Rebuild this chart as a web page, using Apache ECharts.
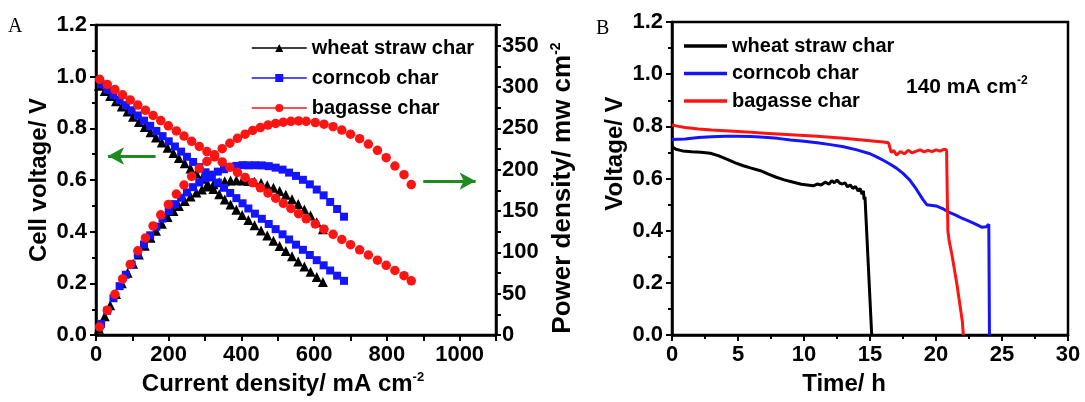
<!DOCTYPE html>
<html><head><meta charset="utf-8">
<script src="https://cdn.jsdelivr.net/npm/echarts@6/dist/echarts.min.js"></script>
<style>html,body{margin:0;padding:0;background:#fff}#c{width:1085px;height:402px}</style>
</head><body><div id="c"></div><script>
// ---- Panel A: polarization (voltage) and power density vs current density ----
const seriesNames = ['wheat straw char', 'corncob char', 'bagasse char'];

const wheatI = [8,24,39,55,71,87,102,118,134,150,165,181,197,213,228,244,260,276,291,307,323,339,354,370,386,402,419,436,454,471,488,505,522,539,556,573,590,607,624];
const wheatV = [0.965,0.945,0.925,0.905,0.885,0.865,0.845,0.825,0.805,0.785,0.765,0.745,0.725,0.705,0.685,0.665,0.645,0.625,0.605,0.585,0.565,0.545,0.525,0.505,0.485,0.465,0.445,0.425,0.405,0.385,0.365,0.345,0.325,0.305,0.285,0.265,0.245,0.225,0.205];
const wheatP = [7.7,22.7,36.1,49.8,62.8,75.3,86.2,97.4,107.9,117.8,126.2,134.8,142.8,150.2,156.2,162.3,167.7,172.5,176.1,179.6,182.5,184.8,185.9,186.9,187.2,186.9,186.5,185.3,183.9,181.3,178.1,174.2,169.7,164.4,158.5,151.8,144.6,136.6,127.9];

const cornI = [14,31,48,65,82,98,115,132,149,166,183,200,217,234,250,267,284,301,318,335,352,369,386,403,419,437,456,475,494,513,531,550,569,588,607,626,644,663,682];
const cornV = [0.97,0.95,0.93,0.91,0.89,0.87,0.85,0.83,0.81,0.79,0.77,0.75,0.73,0.71,0.69,0.67,0.65,0.63,0.61,0.59,0.57,0.55,0.53,0.51,0.49,0.47,0.45,0.43,0.41,0.39,0.37,0.35,0.33,0.31,0.29,0.27,0.25,0.23,0.21];
const cornP = [13.6,29.5,44.6,59.2,73.0,85.3,97.8,109.6,120.7,131.1,140.9,150.0,158.4,166.1,172.5,178.9,184.6,189.6,194.0,197.7,200.6,203.0,204.6,205.5,205.3,205.4,205.2,204.3,202.5,200.1,196.5,192.5,187.8,182.3,176.0,169.0,161.0,152.5,143.2];

const bagI = [10,31,52,73,94,115,136,157,178,199,221,242,263,284,305,326,347,368,389,410,431,452,473,494,515,536,557,578,603,627,652,676,700,725,749,774,798,822,847,867];
const bagV = [0.99,0.97,0.95,0.93,0.91,0.89,0.87,0.85,0.83,0.81,0.79,0.77,0.75,0.73,0.71,0.69,0.67,0.65,0.63,0.61,0.59,0.57,0.55,0.53,0.51,0.49,0.47,0.45,0.43,0.41,0.39,0.37,0.35,0.33,0.31,0.29,0.27,0.25,0.23,0.21];
const bagP = [9.9,30.1,49.4,67.9,85.5,102,117.5,132,145.5,158,170.5,181.5,192,201.5,210,218,225.5,232,238,243,247.5,251,254,256,257.5,258.5,259,258.5,257,255,252,248,243,237.5,231,223.5,214.5,204.5,194,182];

// green arrows (data coordinates of panel A: current density, voltage)
const arrowLeft = [[33, 0.693], [164, 0.693]];
const arrowRight = [[900, 0.596], [1044, 0.596]];

// ---- Panel B: voltage vs time at 140 mA cm-2 ----
const wheatT = [0,0.3,0.8,1.5,2.2,2.9,3.5,4.1,4.8,5.4,6.0,6.7,7.3,7.9,8.5,9.2,9.8,10.4,10.7,11.0,11.3,11.6,11.9,12.1,12.3,12.5,12.7,12.9,13.1,13.3,13.5,13.7,13.9,14.1,14.25,14.4,14.5,14.55,14.62,15.13];
const wheatVt = [0.722,0.712,0.706,0.703,0.701,0.697,0.688,0.675,0.66,0.649,0.64,0.63,0.617,0.605,0.595,0.586,0.578,0.574,0.572,0.579,0.575,0.586,0.579,0.592,0.584,0.594,0.583,0.579,0.584,0.568,0.576,0.562,0.57,0.552,0.562,0.54,0.553,0.52,0.53,0];
const cornT = [0,1,2,3,4,5,6,7,8,9,10,11,12,13,14,15,15.5,16,16.5,17,17.5,18,18.5,19,19.3,20,20.5,21,21.5,22,22.5,23,23.5,23.8,24,24.05];
const cornVt = [0.75,0.752,0.757,0.76,0.762,0.762,0.761,0.758,0.754,0.748,0.743,0.737,0.73,0.722,0.71,0.695,0.683,0.67,0.656,0.64,0.62,0.595,0.56,0.52,0.50,0.495,0.485,0.47,0.46,0.447,0.437,0.425,0.413,0.415,0.425,0];
const bagT = [0,0.5,1,2,3,4,5,6,7,8,9,10,11,12,13,14,15,16,16.4,16.5,16.6,16.8,17.0,17.3,17.6,17.9,18.2,18.5,18.8,19.1,19.4,19.7,20.0,20.3,20.6,20.8,20.85,20.9,21.0,21.2,21.4,21.6,21.8,22.0,22.07];
const bagVt = [0.805,0.8,0.796,0.79,0.786,0.783,0.78,0.777,0.774,0.771,0.768,0.765,0.762,0.758,0.754,0.75,0.745,0.74,0.737,0.72,0.70,0.708,0.69,0.703,0.695,0.708,0.698,0.705,0.71,0.702,0.708,0.703,0.71,0.705,0.712,0.71,0.55,0.40,0.36,0.31,0.25,0.19,0.12,0.05,0];

// ---- chart ----
const F = '"Liberation Sans", Arial, sans-serif';
const BLACK = '#000000', BLUE = '#1414ff', RED = '#ff1414', GREEN = '#1f8a1f';
const colors = [BLACK, BLUE, RED];
const zip = (a, b) => a.map((v, i) => [v, b[i]]);

const supRich = { sup: { fontSize: 13, fontWeight: 'bold', fontFamily: F, color: '#000', verticalAlign: 'top', lineHeight: 26 } };
const nameStyle = { fontSize: 24, fontWeight: 'bold', fontFamily: F, color: '#000', lineHeight: 26, rich: supRich };
const labelStyle = { fontSize: 22, fontWeight: 'bold', fontFamily: F, color: '#000' };
const axisLine = { show: true, onZero: false, lineStyle: { color: '#000', width: 2.5 } };
const tick = { show: true, inside: false, length: 6, lineStyle: { color: '#000', width: 2 } };
const minor = { show: true, splitNumber: 2, length: 4, lineStyle: { color: '#000', width: 2 } };

const chart = echarts.init(document.getElementById('c'));
const leftSeries = [];
const ivData = [[wheatI, wheatV, wheatP, 'triangle', 10], [cornI, cornV, cornP, 'rect', 8], [bagI, bagV, bagP, 'circle', 9.5]];
ivData.forEach((d, k) => {
  leftSeries.push({
    name: seriesNames[k], type: 'line', xAxisIndex: 0, yAxisIndex: 0,
    data: zip(d[0], d[1]), symbol: d[3], symbolSize: d[4], showAllSymbol: true,
    lineStyle: { width: 0 }, itemStyle: { color: colors[k] }, emphasis: { disabled: true }, z: 3 + k
  });
});
ivData.forEach((d, k) => {
  leftSeries.push({
    name: seriesNames[k], type: 'line', xAxisIndex: 0, yAxisIndex: 1,
    data: zip(d[0], d[2]), symbol: d[3], symbolSize: d[4], showAllSymbol: true,
    lineStyle: { width: 0 }, itemStyle: { color: colors[k] }, emphasis: { disabled: true }, z: 3 + k
  });
});
// arrows
leftSeries[0].markLine = {
  silent: true, animation: false, symbolSize: [13, 16],
  lineStyle: { color: GREEN, width: 3, type: 'solid' }, label: { show: false },
  data: [
    [{ coord: arrowLeft[0], symbol: 'arrow' }, { coord: arrowLeft[1], symbol: 'none' }],
    [{ coord: arrowRight[0], symbol: 'none' }, { coord: arrowRight[1], symbol: 'arrow' }]
  ]
};

const rightData = [[wheatT, wheatVt], [cornT, cornVt], [bagT, bagVt]];
const rightSeries = rightData.map((d, k) => ({
  name: seriesNames[k] + ' ', type: 'line', xAxisIndex: 1, yAxisIndex: 2,
  data: zip(d[0], d[1]), symbol: 'none', showSymbol: false,
  lineStyle: { width: 3, color: colors[k] }, itemStyle: { color: colors[k] }, emphasis: { disabled: true }, z: 3 + (k === 0 ? 2 : k - 1)
}));

chart.setOption({
  animation: false,
  backgroundColor: '#fff',
  grid: [
    { left: 96, right: 589, top: 25, bottom: 55, show: true, borderColor: '#000', borderWidth: 2.5, backgroundColor: 'transparent' },
    { left: 672, right: 17, top: 22, bottom: 58, show: true, borderColor: '#000', borderWidth: 2.5, backgroundColor: 'transparent' }
  ],
  legend: [
    {
      data: seriesNames, left: 246, top: 32, orient: 'vertical', itemWidth: 55, itemHeight: 10, itemGap: 8,
      textStyle: { fontSize: 20, fontWeight: 'bold', fontFamily: F, color: '#000', lineHeight: 22 },
      lineStyle: { width: 1.5 }, selectedMode: false
    },
    {
      data: seriesNames.map(n => n + ' '), left: 679, top: 30, orient: 'vertical', itemWidth: 43, itemHeight: 3.5, itemGap: 5.5,
      icon: 'rect',
      textStyle: { fontSize: 20, fontWeight: 'bold', fontFamily: F, color: '#000', lineHeight: 22 },
      formatter: n => n.trim(), selectedMode: false
    }
  ],
  xAxis: [
    {
      gridIndex: 0, type: 'value', min: 0, max: 1100, interval: 100,
      axisLine: axisLine, axisTick: tick, splitLine: { show: false },
      axisLabel: Object.assign({ margin: 9, formatter: v => (v % 200 === 0 && v <= 1000) ? String(v) : '' }, labelStyle),
      name: 'Current density/ mA cm{sup|-2}', nameLocation: 'middle', nameGap: 33,
      nameTextStyle: Object.assign({ padding: [0, 26, 0, 0] }, nameStyle)
    },
    {
      gridIndex: 1, type: 'value', min: 0, max: 30, interval: 5,
      axisLine: axisLine, axisTick: tick, minorTick: minor, splitLine: { show: false },
      axisLabel: Object.assign({ margin: 9 }, labelStyle),
      name: 'Time/ h', nameLocation: 'middle', nameGap: 35,
      nameTextStyle: Object.assign({ padding: [0, 52, 0, 0] }, nameStyle)
    }
  ],
  yAxis: [
    {
      gridIndex: 0, type: 'value', min: 0, max: 1.2, interval: 0.2,
      axisLine: axisLine, axisTick: tick, minorTick: minor, splitLine: { show: false },
      axisLabel: Object.assign({ margin: 9, formatter: v => v.toFixed(1) }, labelStyle),
      name: 'Cell voltage/ V', nameLocation: 'middle', nameGap: 44, nameTextStyle: nameStyle
    },
    {
      gridIndex: 0, type: 'value', position: 'right', min: 0, max: 375, interval: 25,
      axisLine: axisLine, axisTick: Object.assign({}, tick, { length: 5 }), splitLine: { show: false },
      axisLabel: Object.assign({ margin: 6, formatter: v => (v % 50 === 0 && v <= 350) ? String(v) : '' }, labelStyle),
      name: 'Power density/ mw cm{sup|-2}', nameLocation: 'middle', nameGap: 53,
      nameTextStyle: Object.assign({}, nameStyle, { fontSize: 26, lineHeight: 28, padding: [0, 16, 0, 0],
        rich: { sup: Object.assign({}, supRich.sup, { fontSize: 14, lineHeight: 28 }) } })
    },
    {
      gridIndex: 1, type: 'value', min: 0, max: 1.2, interval: 0.2,
      axisLine: axisLine, axisTick: tick, minorTick: minor, splitLine: { show: false },
      axisLabel: Object.assign({ margin: 9, formatter: v => v.toFixed(1) }, labelStyle),
      name: 'Voltage/ V', nameLocation: 'middle', nameGap: 44,
      nameTextStyle: Object.assign({ padding: [0, 0, 0, 50] }, nameStyle)
    }
  ],
  graphic: [
    { type: 'text', left: 8, top: 17, style: { text: 'A', fontSize: 20, fontFamily: '"Liberation Serif", serif', fill: '#000' } },
    { type: 'text', left: 596, top: 19, style: { text: 'B', fontSize: 20, fontFamily: '"Liberation Serif", serif', fill: '#000' } },
    { type: 'text', left: 906, top: 75, style: { text: '140 mA cm{sup|-2}', fontSize: 21, fontWeight: 'bold', fontFamily: F, fill: '#000', lineHeight: 24,
        rich: { sup: { fontSize: 12, fontWeight: 'bold', fontFamily: F, fill: '#000', verticalAlign: 'top', lineHeight: 24 } } } }
  ],
  series: leftSeries.concat(rightSeries)
});
</script></body></html>
